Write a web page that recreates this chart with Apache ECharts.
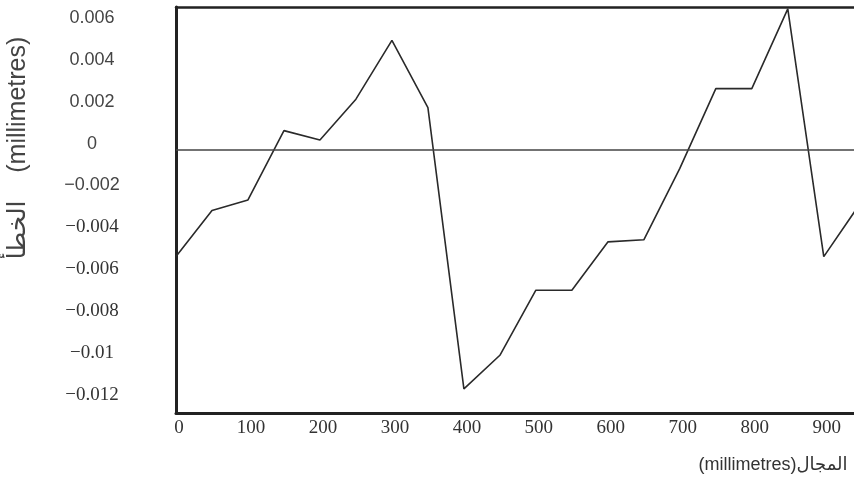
<!DOCTYPE html>
<html>
<head>
<meta charset="utf-8">
<script src="https://cdn.jsdelivr.net/npm/echarts@6/dist/echarts.min.js"></script>
<style>
  html, body { margin: 0; padding: 0; background: #fff; }
  #chart { width: 854px; height: 485px; }
</style>
</head>
<body>
<div id="chart"></div>
<script>
// positions along the span (millimetres)
const spanPositions = [0, 50, 100, 150, 200, 250, 300, 350, 400, 450,
  500, 550, 600, 650, 700, 750, 800, 850, 900, 950]

// error values (millimetres)
const errorValues = [-0.0051, -0.0029, -0.0024, 0.0009, 0.00045, 0.0024, 0.0052, 0.002, -0.0114, -0.0098,
  -0.0067, -0.0067, -0.0044, -0.0043, -0.0009, 0.0029, 0.0029, 0.0067, -0.0051, -0.0026]

const xAxisName = '(millimetres)المجال'
const yAxisName = 'الخطأ    (millimetres)'

const chart = echarts.init(document.getElementById('chart'))

function fmtY(v) {
  const s = String(+v.toFixed(4))
  return s.replace('-', '\u2212')
}

const option = {
  animation: false,
  grid: {
    left: 176,
    right: 0,
    top: 7,
    bottom: 72,
    containLabel: false,
    outerBoundsMode: 'none',
  },
  xAxis: [
    {
      type: 'value',
      min: 0,
      max: 942,
      interval: 100,
      position: 'bottom',
      axisLine: { show: true, onZero: false, lineStyle: { color: '#222', width: 3 } },
      axisTick: { show: false },
      splitLine: { show: false },
      axisLabel: {
        margin: 6,
        showMaxLabel: false,
        padding: [0, 0, 0, 6],
        fontFamily: 'Liberation Serif',
        fontSize: 19,
        color: '#333',
      },
      name: xAxisName,
      nameLocation: 'middle',
      nameGap: 43,
      nameTextStyle: {
        fontFamily: 'Liberation Sans, DejaVu Sans',
        fontSize: 18,
        color: '#333',
        padding: [0, 0, 0, 516],
      },
    },
    {
      type: 'value',
      min: 0,
      max: 942,
      position: 'top',
      axisLine: { show: true, onZero: false, lineStyle: { color: '#222', width: 2.5 } },
      axisTick: { show: false },
      axisLabel: { show: false },
      splitLine: { show: false },
    },
  ],
  yAxis: {
    type: 'value',
    min: -0.01255,
    max: 0.00679,
    splitNumber: 10,
    axisLine: { show: true, onZero: false, lineStyle: { color: '#222', width: 3 } },
    axisTick: { show: false },
    splitLine: { show: false },
    axisLabel: {
      showMinLabel: false,
      showMaxLabel: false,
      margin: 84,
      align: 'center',
      padding: [0, 0, 12, 0],
      formatter: v => (v >= -0.0025 ? '{a|' : '{b|') + fmtY(v) + '}',
      rich: {
        a: { fontFamily: 'Liberation Sans', fontSize: 18, color: '#444' },
        b: { fontFamily: 'Liberation Serif', fontSize: 19, color: '#333' },
      },
    },
    name: yAxisName,
    nameLocation: 'middle',
    nameRotate: 90,
    nameGap: 145,
    nameTextStyle: {
      fontFamily: 'Liberation Sans, DejaVu Sans',
      fontSize: 25,
      color: '#444',
      padding: [0, 0, 0, 124],
    },
  },
  series: [
    {
      type: 'line',
      data: spanPositions.map((x, i) => [x, errorValues[i]]),
      symbol: 'none',
      clip: true,
      lineStyle: { color: '#2a2a2a', width: 1.6 },
      markLine: {
        silent: true,
        symbol: 'none',
        label: { show: false },
        lineStyle: { color: '#444', width: 1.5, type: 'solid' },
        data: [{ yAxis: 0 }],
      },
    },
  ],
}

chart.setOption(option)
</script>
</body>
</html>
